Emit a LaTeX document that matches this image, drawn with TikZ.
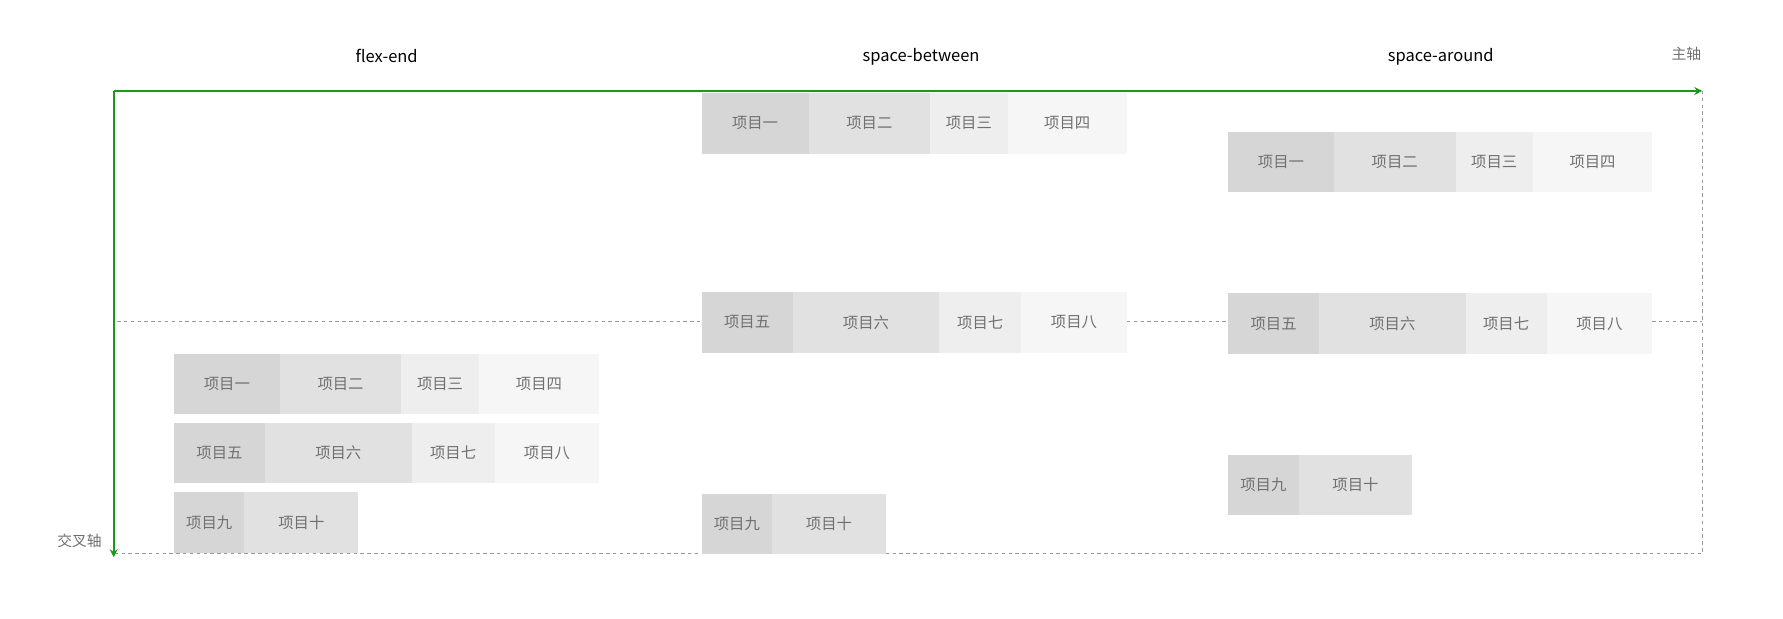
\documentclass[tikz,border=0pt]{standalone}
\usepackage{fontspec}
\setmainfont{Noto Sans CJK SC}
\usetikzlibrary{arrows.meta}
\definecolor{ca}{HTML}{D6D6D6}
\definecolor{cb}{HTML}{E1E1E1}
\definecolor{cc}{HTML}{EEEEEE}
\definecolor{cd}{HTML}{F6F6F6}
\definecolor{txt}{HTML}{707070}
\definecolor{axis}{HTML}{1A9A1A}
\definecolor{dash}{HTML}{999999}
\tikzset{
  cellbox/.style={inner sep=0pt, outer sep=0pt, text=txt, font=\fontsize{13.5}{13.5}\selectfont, minimum height=53pt},
  guide/.style={draw=dash, dashed, line width=0.6pt},
  axisline/.style={draw=axis, line width=1.6pt, -{Stealth[length=7pt,width=7pt]}},
  title/.style={font=\fontsize{14.5}{14.5}\selectfont, text=black},
  axlabel/.style={font=\fontsize{13}{13}\selectfont, text=txt}
}
\newcommand\cellbox[6]{\node[cellbox, fill=#5, minimum width={(#3)-(#2)}] (#1) at ({((#2)+(#3))/2},{(#4)+26.5}) {#6};}
\begin{document}
\begin{tikzpicture}[x=1pt,y=-1pt]
\useasboundingbox (0,0) rectangle (1568,543.5);
\coordinate (O) at (100,80);
\coordinate (X) at (1497,80);
\coordinate (Y) at (100,490);
\coordinate (BR) at (1497,487);
\coordinate (BL) at (100,487);
% guides
\draw[guide] (X) -- (BR) -- (BL);
\coordinate (m0) at (103,283);
\coordinate (m1) at (617,283);
\coordinate (m2) at (991,283);
\coordinate (m3) at (1080,283);
\coordinate (m4) at (1453,283);
\coordinate (m5) at (1497,283);
\draw[guide] (m0) -- (m1);
\draw[guide] (m2) -- (m3);
\draw[guide] (m4) -- (m5);
% column 1
\cellbox{a1}{153}{246}{311}{ca}{项目一}
\cellbox{a2}{246}{353}{311}{cb}{项目二}
\cellbox{a3}{353}{421}{311}{cc}{项目三}
\cellbox{a4}{421}{527}{311}{cd}{项目四}
\cellbox{a5}{153}{233}{372}{ca}{项目五}
\cellbox{a6}{233}{362}{372}{cb}{项目六}
\cellbox{a7}{362}{435}{372}{cc}{项目七}
\cellbox{a8}{435}{527}{372}{cd}{项目八}
\cellbox{a9}{153}{215}{433}{ca}{项目九}
\cellbox{a10}{215}{315}{433}{cb}{项目十}
% column 2
\cellbox{b1}{617}{711}{82}{ca}{项目一}
\cellbox{b2}{711}{818}{82}{cb}{项目二}
\cellbox{b3}{818}{886}{82}{cc}{项目三}
\cellbox{b4}{886}{991}{82}{cd}{项目四}
\cellbox{b5}{617}{697}{257}{ca}{项目五}
\cellbox{b6}{697}{826}{257}{cb}{项目六}
\cellbox{b7}{826}{898}{257}{cc}{项目七}
\cellbox{b8}{898}{991}{257}{cd}{项目八}
\cellbox{b9}{617}{679}{434}{ca}{项目九}
\cellbox{b10}{679}{779}{434}{cb}{项目十}
% column 3
\cellbox{c1}{1080}{1173}{116}{ca}{项目一}
\cellbox{c2}{1173}{1280}{116}{cb}{项目二}
\cellbox{c3}{1280}{1348}{116}{cc}{项目三}
\cellbox{c4}{1348}{1453}{116}{cd}{项目四}
\cellbox{c5}{1080}{1160}{258}{ca}{项目五}
\cellbox{c6}{1160}{1289}{258}{cb}{项目六}
\cellbox{c7}{1289}{1360}{258}{cc}{项目七}
\cellbox{c8}{1360}{1453}{258}{cd}{项目八}
\cellbox{c9}{1080}{1142}{400}{ca}{项目九}
\cellbox{c10}{1142}{1242}{400}{cb}{项目十}
% axes
\draw[axisline] (O) -- (X);
\draw[axisline] (O) -- (Y);
% labels
\node[title] (t1) at (340,49) {flex-end};
\node[title] (t2) at (810,50) {space-between};
\node[title] (t3) at (1267,50) {space-around};
\node[axlabel] (lx) at (1483,47) {主轴};
\node[axlabel] (ly) at (70,476) {交叉轴};
\end{tikzpicture}
\end{document}
